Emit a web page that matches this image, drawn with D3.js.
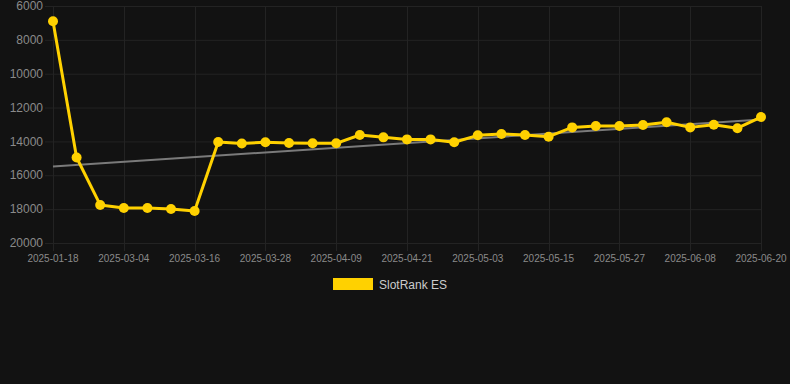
<!DOCTYPE html>
<html>
<head>
<meta charset="utf-8">
<script src="https://cdn.jsdelivr.net/npm/d3@7"></script>
<style>
  html, body { margin: 0; padding: 0; background: #121212; }
  svg { display: block; font-family: "Liberation Sans", Arial, sans-serif; }
</style>
</head>
<body>
<svg id="chart"></svg>
<script>
// Configuration
const width = 790;
const height = 384;
const margin = {top: 6, right: 29, bottom: 141, left: 53};

// Data
const dates = [
  "2025-01-18", "2025-02-01", "2025-02-18", "2025-03-04", "2025-03-08", "2025-03-12",
  "2025-03-16", "2025-03-20", "2025-03-24", "2025-03-28", "2025-04-01", "2025-04-05",
  "2025-04-09", "2025-04-13", "2025-04-17", "2025-04-21", "2025-04-25", "2025-04-29",
  "2025-05-03", "2025-05-07", "2025-05-11", "2025-05-15", "2025-05-19", "2025-05-23",
  "2025-05-27", "2025-05-31", "2025-06-04", "2025-06-08", "2025-06-12", "2025-06-16",
  "2025-06-20"
];
const ranks = [
  6900, 14950, 17750, 17930, 17930, 17990,
  18110, 14030, 14120, 14050, 14090, 14110,
  14110, 13620, 13760, 13880, 13880, 14050,
  13640, 13560, 13620, 13720, 13170, 13090,
  13090, 13030, 12870, 13170, 13010, 13220,
  12560
];
const yTicks = [6000, 8000, 10000, 12000, 14000, 16000, 18000, 20000];
const seriesName = "SlotRank ES";

const lineColor = "#FFD100";
const gridColor = "#232323";
const textColor = "#8a8a8a";

const svg = d3.select("#chart")
  .attr("width", width)
  .attr("height", height);

const innerW = width - margin.left - margin.right;
const innerH = height - margin.top - margin.bottom;

const x = d3.scalePoint()
  .domain(dates)
  .range([margin.left, margin.left + innerW]);

const y = d3.scaleLinear()
  .domain([6000, 20000])
  .range([margin.top, margin.top + innerH]);

// Horizontal grid + y ticks
svg.append("g")
  .selectAll("line")
  .data(yTicks)
  .join("line")
  .attr("x1", margin.left - 8)
  .attr("x2", margin.left + innerW)
  .attr("y1", d => y(d) + 0.5)
  .attr("y2", d => y(d) + 0.5)
  .attr("stroke", gridColor)
  .attr("stroke-width", 1);

svg.append("g")
  .selectAll("text")
  .data(yTicks)
  .join("text")
  .attr("x", margin.left - 10)
  .attr("y", d => y(d))
  .attr("dy", "0.35em")
  .attr("text-anchor", "end")
  .attr("fill", textColor)
  .attr("font-size", 12)
  .text(d => d);

// Vertical grid at labelled dates
const xTickDates = dates.filter((d, i) => i % 3 === 0);

svg.append("g")
  .selectAll("line")
  .data(xTickDates)
  .join("line")
  .attr("x1", d => Math.round(x(d)) + 0.5)
  .attr("x2", d => Math.round(x(d)) + 0.5)
  .attr("y1", margin.top)
  .attr("y2", margin.top + innerH + 8)
  .attr("stroke", gridColor)
  .attr("stroke-width", 1);

svg.append("g")
  .selectAll("text")
  .data(xTickDates)
  .join("text")
  .attr("x", d => x(d))
  .attr("y", margin.top + innerH + 19)
  .attr("text-anchor", "middle")
  .attr("fill", textColor)
  .attr("font-size", 10)
  .text(d => d);

// Trend line (least squares over index)
const n = ranks.length;
const idx = d3.range(n);
const mx = d3.mean(idx);
const my = d3.mean(ranks);
const slope = d3.sum(idx, i => (i - mx) * (ranks[i] - my)) / d3.sum(idx, i => (i - mx) ** 2);
const intercept = my - slope * mx;

svg.append("line")
  .attr("x1", x(dates[0]))
  .attr("x2", x(dates[n - 1]))
  .attr("y1", y(intercept))
  .attr("y2", y(intercept + slope * (n - 1)))
  .attr("stroke", "#7a7a7a")
  .attr("stroke-width", 2);

// Series line
const line = d3.line()
  .x((d, i) => x(dates[i]))
  .y(d => y(d));

svg.append("path")
  .datum(ranks)
  .attr("d", line)
  .attr("fill", "none")
  .attr("stroke", lineColor)
  .attr("stroke-width", 3)
  .attr("stroke-linejoin", "round");

svg.append("g")
  .selectAll("circle")
  .data(ranks)
  .join("circle")
  .attr("cx", (d, i) => x(dates[i]))
  .attr("cy", d => y(d))
  .attr("r", 5)
  .attr("fill", lineColor);

// Legend
const legend = svg.append("g");
legend.append("rect")
  .attr("x", 333)
  .attr("y", 278)
  .attr("width", 40)
  .attr("height", 12)
  .attr("fill", lineColor);
legend.append("text")
  .attr("x", 379)
  .attr("y", 288.5)
  .attr("fill", "#cccccc")
  .attr("font-size", 12)
  .text(seriesName);
</script>
</body>
</html>
